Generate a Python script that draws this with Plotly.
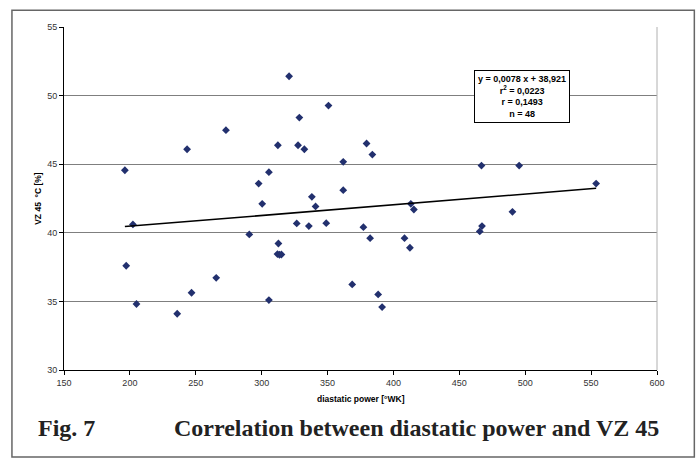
import plotly.graph_objects as go

# Data
diastatic_power = [196.2, 197.2, 202.3, 205.0, 235.9, 243.4, 246.8, 265.5, 272.9, 290.6,
                   297.7, 300.4, 305.5, 305.5, 312.3, 312.7, 312.0, 313.5, 315.0, 320.8,
                   326.6, 327.6, 328.6, 332.4, 335.8, 338.1, 340.9, 349.0, 350.7, 361.9,
                   361.9, 368.7, 377.2, 379.6, 382.3, 384.0, 388.4, 391.4, 408.4, 412.5,
                   413.2, 415.5, 465.5, 466.8, 467.2, 490.3, 495.4, 553.8]
vz45 = [44.56, 37.60, 40.61, 34.81, 34.10, 46.09, 35.63, 36.72, 47.48, 39.88,
        43.59, 42.11, 44.42, 35.10, 46.38, 39.22, 38.45, 38.40, 38.42, 51.41,
        40.68, 46.38, 48.40, 46.09, 40.49, 42.62, 41.92, 40.70, 49.27, 45.17,
        43.11, 36.24, 40.41, 46.51, 39.61, 45.70, 35.51, 34.59, 39.61, 38.91,
        42.11, 41.70, 40.10, 44.90, 40.49, 41.53, 44.90, 43.59]

slope = 0.0078
intercept = 38.921
x_ticks = [150, 200, 250, 300, 350, 400, 450, 500, 550, 600]
y_ticks = [30, 35, 40, 45, 50, 55]

trend_x = [min(diastatic_power), max(diastatic_power)]
trend_y = [intercept + slope * v for v in trend_x]

fig = go.Figure()
fig.add_trace(go.Scatter(x=diastatic_power, y=vz45, mode="markers",
                         marker=dict(symbol="diamond", size=6, color="#22306e"),
                         showlegend=False, hoverinfo="skip"))
fig.add_trace(go.Scatter(x=trend_x, y=trend_y, mode="lines",
                         line=dict(color="black", width=1.5),
                         showlegend=False, hoverinfo="skip"))

W = 592.4
H = 343.3
def px(xp):
    return (xp - 64.3) / W
def py(yp):
    return (370 - yp) / H

tickfont = dict(family="Liberation Sans, Arial", size=9, color="#333333")
fig.update_layout(
    width=700, height=459,
    margin=dict(l=64.3, r=43.3, t=26.7, b=89),
    paper_bgcolor="white", plot_bgcolor="white",
    xaxis=dict(range=[150, 600], tickvals=x_ticks, showgrid=False, zeroline=False,
               showline=True, linecolor="black", linewidth=1,
               ticks="outside", ticklen=4, tickcolor="black", tickfont=tickfont),
    yaxis=dict(range=[30, 55], tickvals=y_ticks, showgrid=True, gridcolor="#7f7f7f",
               gridwidth=1.4, zeroline=False,
               showline=True, linecolor="black", linewidth=1,
               ticks="outside", ticklen=4, tickcolor="black", tickfont=tickfont),
    shapes=[
        dict(type="line", xref="paper", yref="paper", x0=1, x1=1, y0=0, y1=1,
             line=dict(color="#b0b0b0", width=1)),
        dict(type="rect", xref="paper", yref="paper",
             x0=px(12.3), x1=px(694), y0=py(457), y1=py(10),
             line=dict(color="#666666", width=1.5), layer="below"),
    ],
    annotations=[
        dict(text="<b>diastatic power [°WK]</b>", xref="paper", yref="paper",
             x=0.5, y=py(399), xanchor="center", yanchor="middle", showarrow=False,
             font=dict(family="Liberation Sans, Arial", size=8.5, color="black")),
        dict(text="<b>VZ 45  °C [%]</b>", xref="paper", yref="paper",
             x=px(38), y=py(198), xanchor="center", yanchor="middle",
             showarrow=False, textangle=-90,
             font=dict(family="Liberation Sans, Arial", size=8.5, color="black")),
        dict(text="<b>y = 0,0078 x + 38,921<br>r<sup>2</sup> = 0,0223<br>r = 0,1493<br>n = 48</b>",
             xref="paper", yref="paper", x=px(522), y=py(96),
             xanchor="center", yanchor="middle",
             showarrow=False, align="center", bgcolor="white", bordercolor="black",
             borderwidth=1, borderpad=3,
             font=dict(family="Liberation Sans, Arial", size=9, color="black")),
        dict(text="<b>Fig. 7</b>", xref="paper", yref="paper",
             x=px(36), y=py(428), xanchor="left", yanchor="middle",
             showarrow=False,
             font=dict(family="Liberation Serif, Times New Roman", size=24, color="#222222")),
        dict(text="<b>Correlation between diastatic power and VZ 45</b>", xref="paper", yref="paper",
             x=px(661), y=py(428), xanchor="right", yanchor="middle",
             showarrow=False,
             font=dict(family="Liberation Serif, Times New Roman", size=24, color="#222222")),
    ],
)
fig.write_html("out.html")
